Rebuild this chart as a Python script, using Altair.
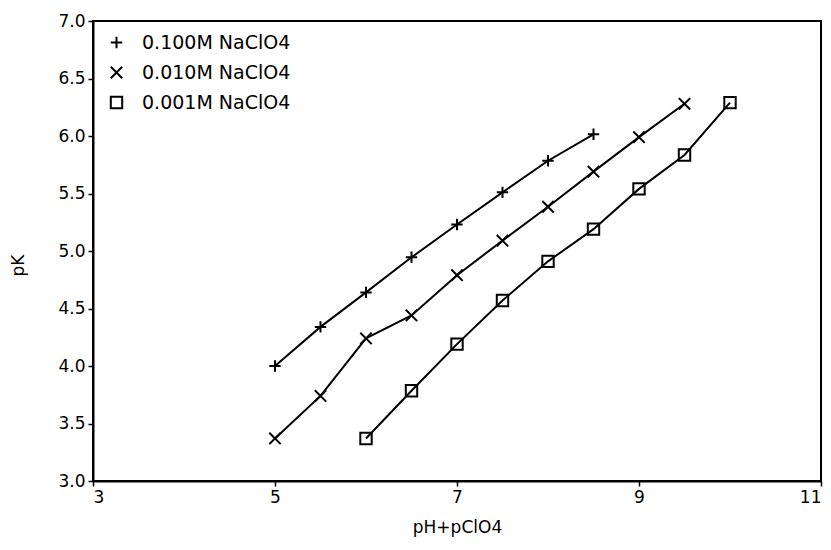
import altair as alt
import pandas as pd

x1 = [5.0, 5.5, 6.0, 6.5, 7.0, 7.5, 8.0, 8.5]
y1 = [4.00, 4.34, 4.64, 4.945, 5.23, 5.51, 5.785, 6.015]
x2 = [5.0, 5.5, 6.0, 6.5, 7.0, 7.5, 8.0, 8.5, 9.0, 9.5]
y2 = [3.37, 3.74, 4.24, 4.44, 4.79, 5.09, 5.385, 5.69, 5.99, 6.28]
x3 = [6.0, 6.5, 7.0, 7.5, 8.0, 8.5, 9.0, 9.5, 10.0]
y3 = [3.37, 3.785, 4.19, 4.57, 4.91, 5.19, 5.54, 5.835, 6.29]
labels = ["0.100M  NaClO4", "0.010M  NaClO4", "0.001M  NaClO4"]

rows = []
for lab, xs, ys in zip(labels, [x1, x2, x3], [y1, y2, y3]):
    for a, b in zip(xs, ys):
        rows.append({"x": a, "y": b, "s": lab})
df = pd.DataFrame(rows)

xs = alt.Scale(domain=[3, 11], nice=False)
ys = alt.Scale(domain=[3.0, 7.0], nice=False)
shape_scale = alt.Scale(
    domain=labels,
    range=["M-1,0L1,0M0,-1L0,1", "M-1,-1L1,1M-1,1L1,-1", "square"],
)

base = alt.Chart(df)
lines = base.mark_line(color="black", strokeWidth=2).encode(
    x=alt.X("x:Q", scale=xs),
    y=alt.Y("y:Q", scale=ys),
    detail="s:N",
)
pts = base.mark_point(color="black", strokeWidth=2, size=130, opacity=1).encode(
    x=alt.X("x:Q", scale=xs, title="pH+pClO4",
            axis=alt.Axis(values=[3, 5, 7, 9, 11], format="d", titleX=364, titleY=38,
                          titleAnchor="middle")),
    y=alt.Y("y:Q", scale=ys, title="pK",
            axis=alt.Axis(values=[3.0, 3.5, 4.0, 4.5, 5.0, 5.5, 6.0, 6.5, 7.0], format=".1f",
                          titleX=-66, titleY=244)),
    shape=alt.Shape("s:N", scale=shape_scale, title=None,
                    legend=alt.Legend(orient="none", legendX=14, legendY=12, padding=0,
                                      labelOffset=16, rowPadding=9)),
)

chart = (lines + pts).properties(
    width=728, height=460,
    autosize=alt.AutoSizeParams(type="none"),
    padding={"left": 93, "top": 21, "right": 8, "bottom": 69},
).configure_view(
    stroke="black", strokeWidth=2
).configure_axis(
    domainColor="black", domainWidth=2, tickColor="black", tickSize=5, tickWidth=1.5,
    labelFont="DejaVu Sans", labelFontSize=17, labelColor="black", labelPadding=3,
    titleFont="DejaVu Sans", titleFontSize=17, titleFontWeight="normal", titleColor="black",
    grid=False,
).configure_legend(
    labelFont="DejaVu Sans", labelFontSize=19, labelColor="black",
    symbolStrokeColor="black", symbolStrokeWidth=2, symbolSize=130,
    symbolFillColor="transparent",
)

chart.save("out.html", embed_options={"renderer": "svg", "actions": False})
